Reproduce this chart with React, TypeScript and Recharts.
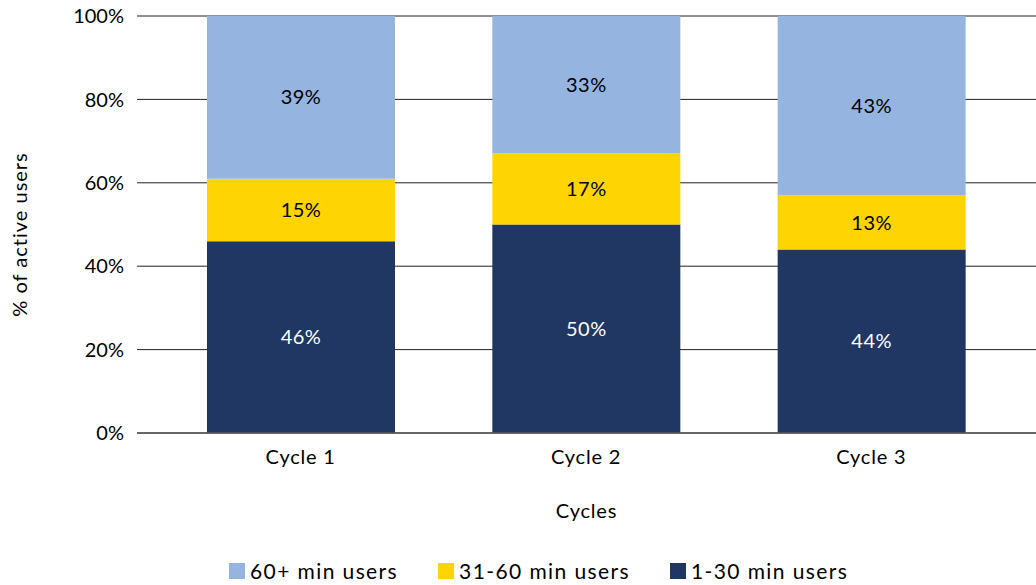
import React from "react";
import { BarChart, Bar, XAxis, YAxis, CartesianGrid, Legend, LabelList, Label } from "recharts";

const categories = ["Cycle 1", "Cycle 2", "Cycle 3"];
const users1to30 = [46, 50, 44];
const users31to60 = [15, 17, 13];
const users60plus = [39, 33, 43];
const yTicks = [0, 20, 40, 60, 80, 100];

const data = categories.map((c, i) => ({
  name: c,
  a: users1to30[i],
  b: users31to60[i],
  c: users60plus[i],
}));

const FONT = "Lato, 'Open Sans', sans-serif";
const C_DARK = "#203764";
const C_YEL = "#FFD400";
const C_LIGHT = "#95B4DF";

const legendItems = [
  { label: "60+ min users", color: C_LIGHT, gap: 40 },
  { label: "31-60 min users", color: C_YEL, gap: 40 },
  { label: "1-30 min users", color: C_DARK, gap: 0 },
];

const LegendContent = () => (
  <div
    style={{
      display: "flex",
      justifyContent: "flex-start",
      fontFamily: FONT,
      fontSize: 21,
      letterSpacing: 1.4,
      color: "#000",
      paddingLeft: 229,
      paddingTop: 3,
    }}
  >
    {legendItems.map((it) => (
      <div key={it.label} style={{ display: "flex", alignItems: "center", marginRight: it.gap }}>
        <div style={{ width: 16, height: 16, background: it.color, marginRight: 5 }} />
        <span>{it.label}</span>
      </div>
    ))}
  </div>
);

const YLabel = (props: any) => {
  const vb = props.viewBox || { x: 0, y: 0, width: 0, height: 0 };
  const x = vb.x + 19;
  const y = vb.y + vb.height / 2 + 10;
  return (
    <text
      x={x}
      y={y}
      transform={`rotate(-90 ${x} ${y})`}
      textAnchor="middle"
      dominantBaseline="central"
      style={{ fontFamily: FONT, fontSize: 20, letterSpacing: 1 }}
      fill="#000"
    >
      % of active users
    </text>
  );
};

const tickStyle = { fontFamily: FONT, fontSize: 20, fill: "#000", letterSpacing: 0.8 };

export default function App() {
  return (
    <div style={{ position: "absolute", left: 0, top: 0, width: 1036, height: 585, background: "#fff", overflow: "hidden" }}>
      <BarChart
        width={1036}
        height={585}
        data={data}
        margin={{ top: 16, right: 0, left: 0, bottom: 0 }}
        barSize={188}
      >
        <CartesianGrid vertical={false} stroke="#222" strokeOpacity={1} />
        <XAxis
          dataKey="name"
          axisLine={{ stroke: "#5a5a5a", strokeWidth: 1.5 }}
          tickLine={false}
          height={122}
          padding={{ left: 21, right: 22 }}
          tick={tickStyle}
          tickMargin={11}
          label={{ value: "Cycles", position: "insideTop", offset: 71, fontFamily: FONT, fontSize: 20, fill: "#000", letterSpacing: 0.8 }}
        />
        <YAxis
          domain={[0, 100]}
          ticks={yTicks}
          tickFormatter={(v) => `${v}%`}
          axisLine={false}
          tickLine={false}
          width={137}
          tickMargin={7}
          tick={{ fontFamily: FONT, fontSize: 20, fill: "#000" }}
        >
          <Label content={<YLabel />} />
        </YAxis>
        <Legend verticalAlign="bottom" content={<LegendContent />} height={30} />
        <Bar dataKey="a" stackId="s" fill={C_DARK} isAnimationActive={false}>
          <LabelList dataKey="a" position="center" formatter={(v: number) => `${v}%`} fill="#fff" style={{ fontFamily: FONT, fontSize: 20, letterSpacing: 0.5 }} />
        </Bar>
        <Bar dataKey="b" stackId="s" fill={C_YEL} isAnimationActive={false}>
          <LabelList dataKey="b" position="center" formatter={(v: number) => `${v}%`} fill="#000" style={{ fontFamily: FONT, fontSize: 20, letterSpacing: 0.5 }} />
        </Bar>
        <Bar dataKey="c" stackId="s" fill={C_LIGHT} isAnimationActive={false}>
          <LabelList dataKey="c" position="center" formatter={(v: number) => `${v}%`} fill="#000" style={{ fontFamily: FONT, fontSize: 20, letterSpacing: 0.5 }} />
        </Bar>
      </BarChart>
    </div>
  );
}
